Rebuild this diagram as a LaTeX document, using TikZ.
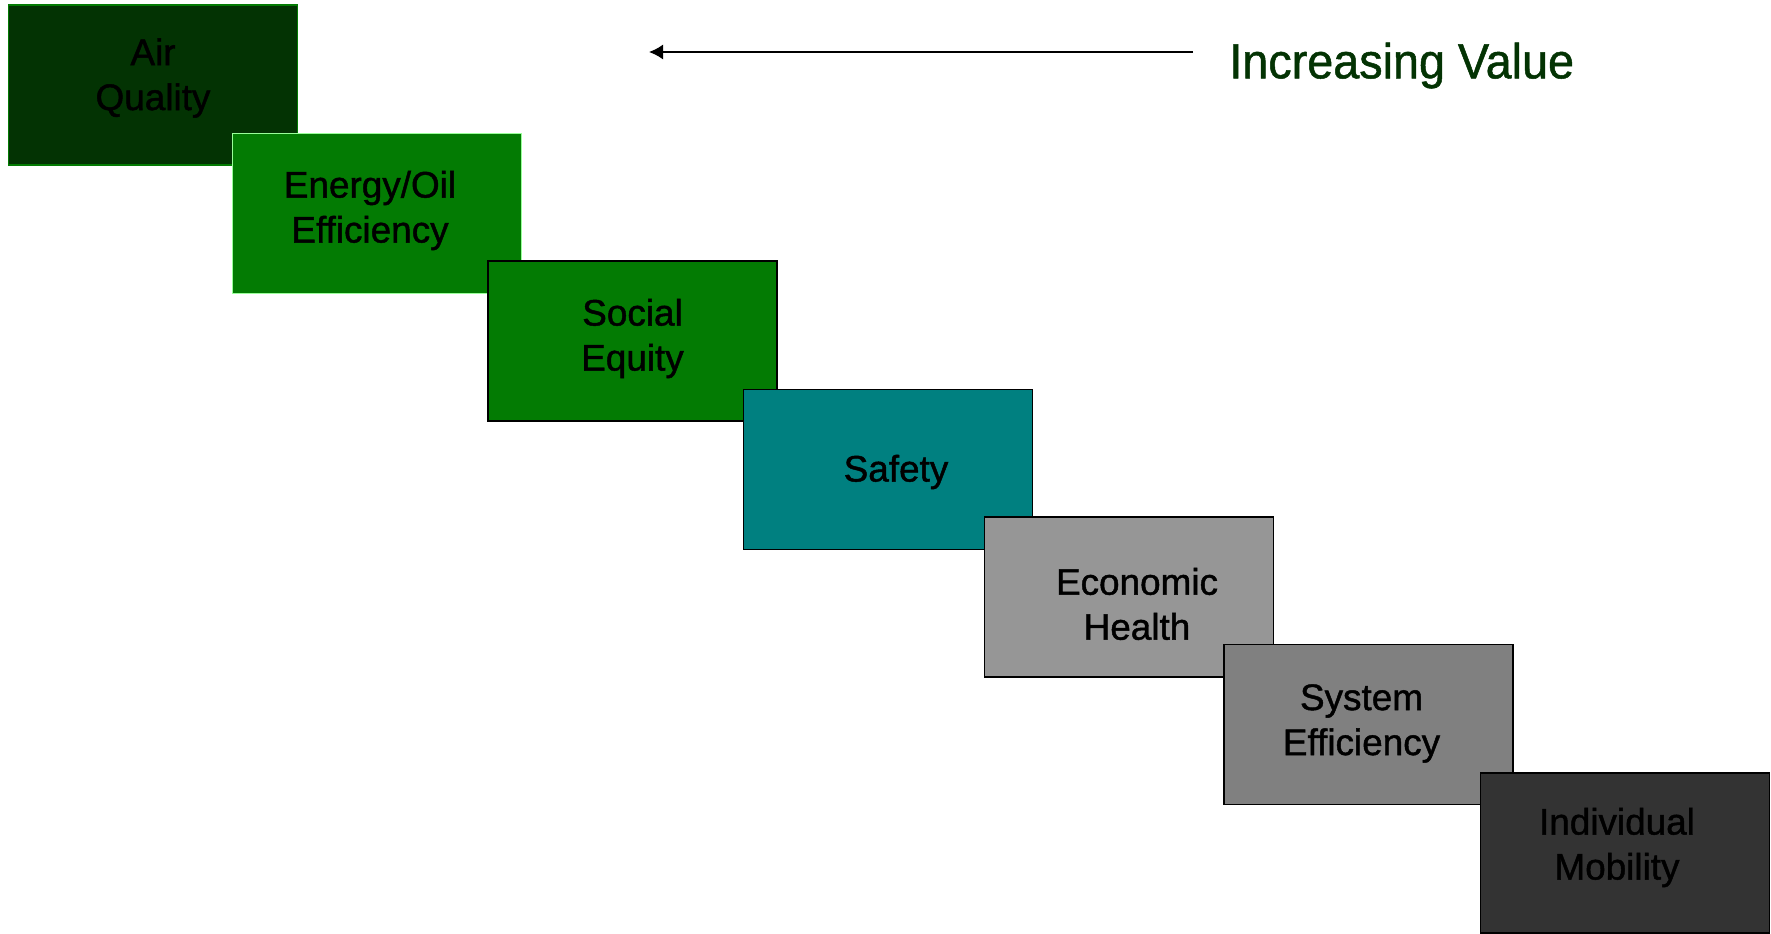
\documentclass[tikz,border=0pt]{standalone}
\usepackage{fontspec}
\setmainfont{Liberation Sans}
\newfontfamily\heavyfont{Liberation Sans}[FakeBold=1.2]
\newfontfamily\titlefont{Liberation Sans}[FakeStretch=0.95, FakeBold=1]
\usepackage{xcolor}
\usepackage{tikz}
\usetikzlibrary{arrows.meta}

\definecolor{darkgreen}{HTML}{033303}
\definecolor{midgreen}{HTML}{037B03}
\definecolor{tealbox}{HTML}{008080}
\definecolor{lightgray}{HTML}{969696}
\definecolor{midgray}{HTML}{808080}
\definecolor{darkgray}{HTML}{333333}

\begin{document}
\begin{tikzpicture}[
        box/.style = {draw=black, line width=1pt, rectangle, minimum width=5.78cm, minimum height=3.2cm, inner sep=0pt},
        boxtext/.style = {align=center, inner sep=0pt, font=\heavyfont\fontsize{21}{25.6}\selectfont},
        arrow/.style = {-{Latex[length=0.28cm, width=0.3cm]}, line width=0.9pt}
    ]
    \useasboundingbox (0,0) rectangle (35.42,-18.68);

    % Steps from left top to right bottom
    \node[box, fill=darkgreen, draw=midgreen,
          label={[boxtext, yshift=0.14cm]center:{Air\\Quality}}] (air) at (3.06,-1.70) {};
    \node[box, fill=midgreen, draw=green!40!white, line width=0.5pt,
          label={[boxtext, xshift=-0.14cm, yshift=0.05cm]center:{Energy/Oil\\Efficiency}}] (energy) at (7.54,-4.26) {};
    \node[box, fill=midgreen,
          label={[boxtext, yshift=0.05cm]center:{Social\\Equity}}] (social) at (12.65,-6.82) {};
    \node[box, fill=tealbox,
          label={[boxtext, xshift=0.16cm, yshift=-0.05cm]center:{Safety}}] (safety) at (17.76,-9.39) {};
    \node[box, fill=lightgray,
          label={[boxtext, xshift=0.16cm, yshift=-0.14cm]center:{Economic\\Health}}] (econ) at (22.58,-11.94) {};
    \node[box, fill=midgray,
          label={[boxtext, xshift=-0.14cm, yshift=0.02cm]center:{System\\Efficiency}}] (system) at (27.37,-14.49) {};
    \node[box, fill=darkgray,
          label={[boxtext, xshift=-0.16cm, yshift=0.11cm]center:{Individual\\Mobility}}] (mobility) at (32.50,-17.06) {};

    % Value arrow and its label
    \node[anchor=base west, text=darkgreen, font=\titlefont\fontsize{28}{32}\selectfont, inner sep=0pt] (value) at (24.58,-1.566) {Increasing Value};
    \coordinate (arrowstart) at (23.86,-1.04);
    \coordinate (arrowend) at (12.98,-1.04);
    \draw[arrow] (arrowstart) -- (arrowend);

\end{tikzpicture}
\end{document}
